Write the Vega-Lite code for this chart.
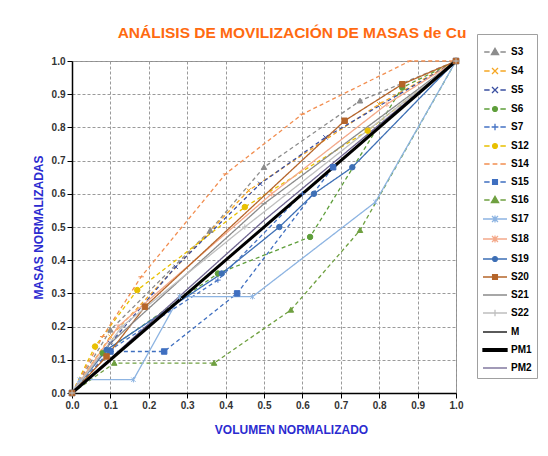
{
  "$schema": "https://vega.github.io/schema/vega-lite/v6.json",
  "width": 384,
  "height": 332,
  "autosize": {"type": "none"},
  "padding": {"left": 72, "top": 61, "right": 92, "bottom": 63},
  "background": "white",
  "config": {
    "font": "Liberation Sans",
    "view": {"stroke": "#8c8c8c", "strokeWidth": 1}
  },
  "title": {
    "text": "ANÁLISIS DE MOVILIZACIÓN DE MASAS de Cu",
    "fontSize": 15.5,
    "fontWeight": "bold",
    "color": "#FF6A10",
    "anchor": "middle",
    "frame": "group",
    "dx": 28,
    "offset": -8
  },
  "data": {
    "values": [
      {"serie": "S3", "v": 0, "m": 0}, {"serie": "S3", "v": 0.1, "m": 0.19}, {"serie": "S3", "v": 0.36, "m": 0.49}, {"serie": "S3", "v": 0.5, "m": 0.68}, {"serie": "S3", "v": 0.75, "m": 0.88}, {"serie": "S3", "v": 1, "m": 1},
      {"serie": "S4", "v": 0, "m": 0}, {"serie": "S4", "v": 0.1, "m": 0.17}, {"serie": "S4", "v": 0.46, "m": 0.61}, {"serie": "S4", "v": 0.8, "m": 0.87}, {"serie": "S4", "v": 1, "m": 1},
      {"serie": "S5", "v": 0, "m": 0}, {"serie": "S5", "v": 0.1, "m": 0.15}, {"serie": "S5", "v": 0.27, "m": 0.38}, {"serie": "S5", "v": 0.49, "m": 0.63}, {"serie": "S5", "v": 0.66, "m": 0.77}, {"serie": "S5", "v": 1, "m": 1},
      {"serie": "S6", "v": 0, "m": 0}, {"serie": "S6", "v": 0.08, "m": 0.12}, {"serie": "S6", "v": 0.38, "m": 0.36}, {"serie": "S6", "v": 0.62, "m": 0.47}, {"serie": "S6", "v": 0.86, "m": 0.92}, {"serie": "S6", "v": 1, "m": 1},
      {"serie": "S7", "v": 0, "m": 0}, {"serie": "S7", "v": 0.1, "m": 0.13}, {"serie": "S7", "v": 0.38, "m": 0.34}, {"serie": "S7", "v": 0.6, "m": 0.6}, {"serie": "S7", "v": 1, "m": 1},
      {"serie": "S12", "v": 0, "m": 0}, {"serie": "S12", "v": 0.06, "m": 0.14}, {"serie": "S12", "v": 0.17, "m": 0.31}, {"serie": "S12", "v": 0.45, "m": 0.56}, {"serie": "S12", "v": 0.77, "m": 0.79}, {"serie": "S12", "v": 1, "m": 1},
      {"serie": "S14", "v": 0, "m": 0}, {"serie": "S14", "v": 0.08, "m": 0.17}, {"serie": "S14", "v": 0.18, "m": 0.35}, {"serie": "S14", "v": 0.4, "m": 0.66}, {"serie": "S14", "v": 0.6, "m": 0.84}, {"serie": "S14", "v": 0.88, "m": 1.0}, {"serie": "S14", "v": 1, "m": 1},
      {"serie": "S15", "v": 0, "m": 0}, {"serie": "S15", "v": 0.1, "m": 0.125}, {"serie": "S15", "v": 0.24, "m": 0.125}, {"serie": "S15", "v": 0.43, "m": 0.3}, {"serie": "S15", "v": 0.68, "m": 0.68}, {"serie": "S15", "v": 1, "m": 1},
      {"serie": "S16", "v": 0, "m": 0}, {"serie": "S16", "v": 0.11, "m": 0.09}, {"serie": "S16", "v": 0.37, "m": 0.09}, {"serie": "S16", "v": 0.57, "m": 0.25}, {"serie": "S16", "v": 0.75, "m": 0.49}, {"serie": "S16", "v": 1, "m": 1},
      {"serie": "S17", "v": 0, "m": 0}, {"serie": "S17", "v": 0.02, "m": 0.04}, {"serie": "S17", "v": 0.16, "m": 0.04}, {"serie": "S17", "v": 0.28, "m": 0.29}, {"serie": "S17", "v": 0.47, "m": 0.29}, {"serie": "S17", "v": 0.79, "m": 0.575}, {"serie": "S17", "v": 1, "m": 1},
      {"serie": "S18", "v": 0, "m": 0}, {"serie": "S18", "v": 0.12, "m": 0.2}, {"serie": "S18", "v": 0.52, "m": 0.6}, {"serie": "S18", "v": 0.82, "m": 0.87}, {"serie": "S18", "v": 1, "m": 1},
      {"serie": "S19", "v": 0, "m": 0}, {"serie": "S19", "v": 0.09, "m": 0.13}, {"serie": "S19", "v": 0.39, "m": 0.36}, {"serie": "S19", "v": 0.54, "m": 0.5}, {"serie": "S19", "v": 0.63, "m": 0.6}, {"serie": "S19", "v": 0.73, "m": 0.68}, {"serie": "S19", "v": 1, "m": 1},
      {"serie": "S20", "v": 0, "m": 0}, {"serie": "S20", "v": 0.09, "m": 0.11}, {"serie": "S20", "v": 0.19, "m": 0.26}, {"serie": "S20", "v": 0.71, "m": 0.82}, {"serie": "S20", "v": 0.86, "m": 0.93}, {"serie": "S20", "v": 1, "m": 1},
      {"serie": "S21", "v": 0, "m": 0}, {"serie": "S21", "v": 0.1, "m": 0.15}, {"serie": "S21", "v": 0.5, "m": 0.57}, {"serie": "S21", "v": 1, "m": 1},
      {"serie": "S22", "v": 0, "m": 0}, {"serie": "S22", "v": 0.13, "m": 0.2}, {"serie": "S22", "v": 0.45, "m": 0.5}, {"serie": "S22", "v": 1, "m": 1},
      {"serie": "M", "v": 0, "m": 0}, {"serie": "M", "v": 1, "m": 1},
      {"serie": "PM1", "v": 0, "m": 0}, {"serie": "PM1", "v": 1, "m": 1},
      {"serie": "PM2", "v": 0, "m": 0}, {"serie": "PM2", "v": 0.5, "m": 0.52}, {"serie": "PM2", "v": 1, "m": 1}
    ]
  },
  "encoding": {
    "x": {
      "field": "v", "type": "quantitative",
      "scale": {"domain": [0, 1], "nice": false},
      "axis": {
        "title": "VOLUMEN NORMALIZADO",
        "values": [0, 0.1, 0.2, 0.3, 0.4, 0.5, 0.6, 0.7, 0.8, 0.9, 1],
        "format": ".1f", "labelFlush": false,
        "grid": true, "gridColor": "#9a9a9a", "gridDash": [3, 2], "gridWidth": 1,
        "domainColor": "#000000", "domainWidth": 1.5,
        "tickColor": "#000000", "tickSize": 5, "tickWidth": 1,
        "labelFontSize": 10, "labelFontWeight": "bold", "labelColor": "#333333", "labelPadding": 2,
        "titleColor": "#2b2bd0", "titleFontSize": 12, "titleFontWeight": "bold",
        "titlePadding": 14, "titleX": 219
      }
    },
    "y": {
      "field": "m", "type": "quantitative",
      "scale": {"domain": [0, 1], "nice": false},
      "axis": {
        "title": "MASAS NORMALIZADAS",
        "values": [0, 0.1, 0.2, 0.3, 0.4, 0.5, 0.6, 0.7, 0.8, 0.9, 1],
        "format": ".1f", "labelFlush": false,
        "grid": true, "gridColor": "#9a9a9a", "gridDash": [3, 2], "gridWidth": 1,
        "domainColor": "#000000", "domainWidth": 1.5,
        "tickColor": "#000000", "tickSize": 5, "tickWidth": 1,
        "labelFontSize": 10, "labelFontWeight": "bold", "labelColor": "#333333", "labelPadding": 2,
        "titleColor": "#2b2bd0", "titleFontSize": 12, "titleFontWeight": "bold",
        "titlePadding": 6
      }
    }
  },
  "layer": [
    {
      "transform": [{"filter": "datum.serie !== 'PM1'"}],
      "mark": {"type": "line", "strokeWidth": 1.3},
      "encoding": {
        "color": {
          "field": "serie", "type": "nominal", "legend": null,
          "scale": {
            "domain": ["S3","S4","S5","S6","S7","S12","S14","S15","S16","S17","S18","S19","S20","S21","S22","M","PM1","PM2"],
            "range": ["#8C8C8C","#F5A623","#3A4FA0","#5E9E3A","#4472C4","#E8C000","#F28E50","#3F6FC0","#6FA040","#8DB4E2","#F4A98A","#3D6FB5","#B5652A","#8A8A8A","#BFBFBF","#000000","#000000","#6E6490"]
          }
        },
        "strokeDash": {
          "field": "serie", "type": "nominal", "legend": null,
          "scale": {
            "domain": ["S3","S4","S5","S6","S7","S12","S14","S15","S16","S17","S18","S19","S20","S21","S22","M","PM1","PM2"],
            "range": [[4,3],[4,3],[4,3],[4,3],[4,3],[4,3],[4,3],[4,3],[4,3],[1,0],[1,0],[1,0],[1,0],[1,0],[1,0],[1,0],[1,0],[1,0]]
          }
        }
      }
    },
    {
      "transform": [{"filter": "datum.serie === 'PM1'"}],
      "mark": {"type": "line", "strokeWidth": 3, "color": "#000000"},
      "encoding": {}
    },
    {
      "transform": [{"filter": "indexof(['M','PM1','PM2'], datum.serie) < 0"}],
      "mark": {"type": "point", "filled": true, "size": 30, "strokeWidth": 1, "opacity": 1},
      "encoding": {
        "fill": {
          "field": "serie", "type": "nominal", "legend": null,
          "scale": {
            "domain": ["S3","S4","S5","S6","S7","S12","S14","S15","S16","S17","S18","S19","S20","S21","S22"],
            "range": ["#8C8C8C","#F5A623","#3A4FA0","#5E9E3A","#4472C4","#E8C000","#F28E50","#3F6FC0","#6FA040","#8DB4E2","#F4A98A","#3D6FB5","#B5652A","#8A8A8A","#BFBFBF"]
          }
        },
        "stroke": {
          "field": "serie", "type": "nominal", "legend": null,
          "scale": {
            "domain": ["S3","S4","S5","S6","S7","S12","S14","S15","S16","S17","S18","S19","S20","S21","S22"],
            "range": ["#8C8C8C","#F5A623","#3A4FA0","#5E9E3A","#4472C4","#E8C000","#F28E50","#3F6FC0","#6FA040","#8DB4E2","#F4A98A","#3D6FB5","#B5652A","#8A8A8A","#BFBFBF"]
          }
        },
        "shape": {
          "field": "serie", "type": "nominal", "legend": null,
          "scale": {
            "domain": ["S3","S4","S5","S6","S7","S12","S14","S15","S16","S17","S18","S19","S20","S21","S22"],
            "range": [
              "M0,-1L1,0.8L-1,0.8Z",
              "M-0.8,-0.8L0.8,0.8M0.8,-0.8L-0.8,0.8",
              "M-0.8,-0.8L0.8,0.8M0.8,-0.8L-0.8,0.8",
              "circle",
              "M-1,0H1M0,-1V1",
              "circle",
              "M-1,0H1",
              "square",
              "M0,-1L1,0.8L-1,0.8Z",
              "M-0.8,-0.8L0.8,0.8M0.8,-0.8L-0.8,0.8M0,-1V1",
              "M-0.8,-0.8L0.8,0.8M0.8,-0.8L-0.8,0.8M0,-1V1",
              "circle",
              "square",
              "M-1,0H1",
              "M-1,0H1M0,-1V1"
            ]
          }
        }
      }
    },
    {
      "transform": [{"filter": "datum.v === 0"}],
      "mark": {"type": "point", "filled": true, "size": 576, "opacity": 0},
      "encoding": {
        "fill": {
          "field": "serie", "type": "nominal",
          "scale": {
            "domain": ["S3","S4","S5","S6","S7","S12","S14","S15","S16","S17","S18","S19","S20","S21","S22","M","PM1","PM2"],
            "range": ["#8C8C8C","#F5A623","#3A4FA0","#5E9E3A","#4472C4","#E8C000","#F28E50","#3F6FC0","#6FA040","#8DB4E2","#F4A98A","#3D6FB5","#B5652A","#8A8A8A","#BFBFBF","#000000","#000000","#6E6490"]
          },
          "legend": {
            "title": null, "orient": "none", "legendX": 405, "legendY": -27,
            "strokeColor": "#a0a0a0", "fillColor": "white", "padding": 5, "rowPadding": 0,
            "symbolSize": 576, "symbolStrokeWidth": 1.3, "symbolOpacity": 1,
            "labelFontSize": 10, "labelFontWeight": "bold", "labelColor": "#000000", "labelOffset": 3
          }
        },
        "stroke": {
          "field": "serie", "type": "nominal",
          "scale": {
            "domain": ["S3","S4","S5","S6","S7","S12","S14","S15","S16","S17","S18","S19","S20","S21","S22","M","PM1","PM2"],
            "range": ["#8C8C8C","#F5A623","#3A4FA0","#5E9E3A","#4472C4","#E8C000","#F28E50","#3F6FC0","#6FA040","#8DB4E2","#F4A98A","#3D6FB5","#B5652A","#8A8A8A","#BFBFBF","#000000","#000000","#6E6490"]
          },
          "legend": {
            "title": null, "orient": "none", "legendX": 405, "legendY": -27,
            "strokeColor": "#a0a0a0", "fillColor": "white", "padding": 5, "rowPadding": 0,
            "symbolSize": 576, "symbolStrokeWidth": 1.3, "symbolOpacity": 1,
            "labelFontSize": 10, "labelFontWeight": "bold", "labelColor": "#000000", "labelOffset": 3
          }
        },
        "shape": {
          "field": "serie", "type": "nominal",
          "scale": {
            "domain": ["S3","S4","S5","S6","S7","S12","S14","S15","S16","S17","S18","S19","S20","S21","S22","M","PM1","PM2"],
            "range": [
              "M-0.9,0H-0.45M0.45,0H0.9M0,-0.3L0.3,0.22L-0.3,0.22Z",
              "M-0.9,0H-0.45M0.45,0H0.9M-0.25,-0.25L0.25,0.25M0.25,-0.25L-0.25,0.25",
              "M-0.9,0H-0.45M0.45,0H0.9M-0.25,-0.25L0.25,0.25M0.25,-0.25L-0.25,0.25",
              "M-0.9,0H-0.45M0.45,0H0.9M0.2,0A0.2,0.2,0,1,1,-0.2,0A0.2,0.2,0,1,1,0.2,0Z",
              "M-0.9,0H-0.45M0.45,0H0.9M-0.28,0H0.28M0,-0.28V0.28",
              "M-0.9,0H-0.45M0.45,0H0.9M0.2,0A0.2,0.2,0,1,1,-0.2,0A0.2,0.2,0,1,1,0.2,0Z",
              "M-0.9,0H-0.45M0.45,0H0.9M-0.2,0H0.2",
              "M-0.9,0H-0.45M0.45,0H0.9M-0.2,-0.2H0.2V0.2H-0.2Z",
              "M-0.9,0H-0.45M0.45,0H0.9M0,-0.3L0.3,0.22L-0.3,0.22Z",
              "M-1,0H1M-0.25,-0.25L0.25,0.25M0.25,-0.25L-0.25,0.25M0,-0.3V0.3",
              "M-1,0H1M-0.25,-0.25L0.25,0.25M0.25,-0.25L-0.25,0.25M0,-0.3V0.3",
              "M-1,0H1M0.2,0A0.2,0.2,0,1,1,-0.2,0A0.2,0.2,0,1,1,0.2,0Z",
              "M-1,0H1M-0.2,-0.2H0.2V0.2H-0.2Z",
              "M-1,0H1M-0.2,0H0.2",
              "M-1,0H1M-0.28,0H0.28M0,-0.28V0.28",
              "M-1,0H1",
              "M-1,-0.12H1V0.12H-1Z",
              "M-1,0H1"
            ]
          },
          "legend": {
            "title": null, "orient": "none", "legendX": 405, "legendY": -27,
            "strokeColor": "#a0a0a0", "fillColor": "white", "padding": 5, "rowPadding": 0,
            "symbolSize": 576, "symbolStrokeWidth": 1.3, "symbolOpacity": 1,
            "labelFontSize": 10, "labelFontWeight": "bold", "labelColor": "#000000", "labelOffset": 3
          }
        }
      }
    }
  ],
  "resolve": {"scale": {"shape": "independent", "fill": "independent", "stroke": "independent"}}
}
